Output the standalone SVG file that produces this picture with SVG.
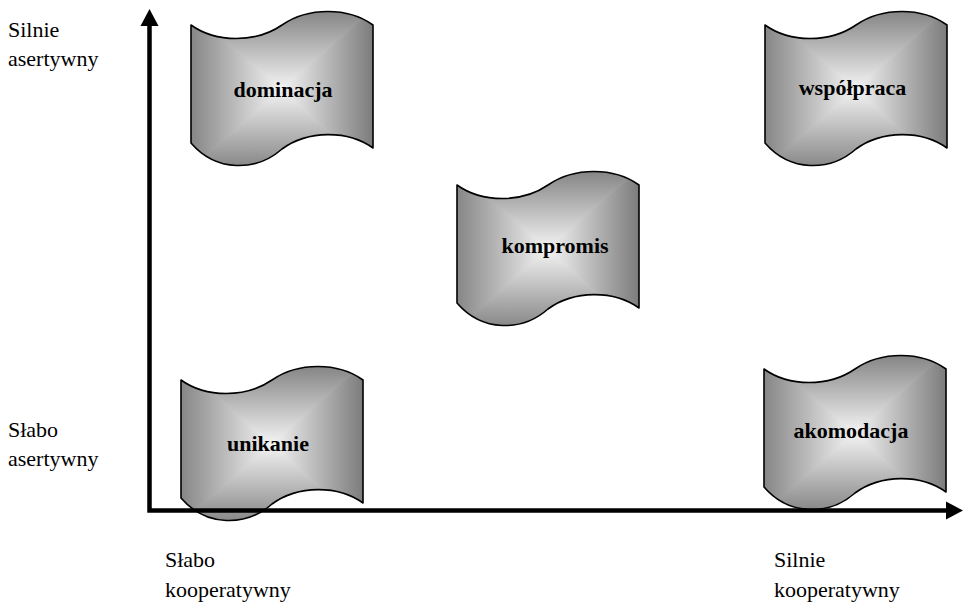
<svg xmlns="http://www.w3.org/2000/svg" xmlns:xlink="http://www.w3.org/1999/xlink" width="965" height="604" viewBox="0 0 965 604">
<style>
.outline{fill:none;stroke:#000;stroke-width:1.6;stroke-linejoin:round}
.axis{fill:none;stroke:#000;stroke-width:4.5;stroke-linejoin:miter}
</style>
<defs>
<path id="tape" d="M0,13 C25,31 65,31 91,13 C117,-5 157,-5 182,13 L182,136 C157,118 117,118 91,137 C65,160 25,160 0,131 Z"/>
<clipPath id="tapeClip"><use xlink:href="#tape"/></clipPath>
<linearGradient id="gH" x1="0" y1="0" x2="1" y2="0">
<stop offset="0" stop-color="#868686"/>
<stop offset="0.5" stop-color="#f4f4f4"/>
<stop offset="1" stop-color="#7c7c7c"/>
</linearGradient>
<linearGradient id="gT" x1="0" y1="0" x2="0" y2="1">
<stop offset="0" stop-color="#838383"/>
<stop offset="1" stop-color="#f4f4f4"/>
</linearGradient>
<linearGradient id="gB" x1="0" y1="1" x2="0" y2="0">
<stop offset="0" stop-color="#838383"/>
<stop offset="1" stop-color="#f4f4f4"/>
</linearGradient>
<g id="tapeShape">
<g clip-path="url(#tapeClip)">
<rect x="0" y="-2" width="182" height="160" fill="url(#gH)"/>
<polygon points="0,-2 182,-2 91,77" fill="url(#gT)"/>
<polygon points="0,158 182,158 91,77" fill="url(#gB)"/>
</g>
<use xlink:href="#tape" class="outline"/>
</g>
<marker id="arr" markerUnits="userSpaceOnUse" markerWidth="20" markerHeight="20" refX="0" refY="0" orient="auto-start-reverse" overflow="visible">
<path d="M0,-9 L17,0 L0,9 Z" fill="#000"/>
</marker>
</defs>

<g id="node-dominacja">
<use xlink:href="#tapeShape" transform="translate(191,12)"/>
<text x="283" y="97" font-family="Liberation Serif, serif" font-size="22" font-weight="bold" text-anchor="middle">dominacja</text>
</g>
<g id="node-wspolpraca">
<use xlink:href="#tapeShape" transform="translate(765,12)"/>
<text x="852.5" y="95" font-family="Liberation Serif, serif" font-size="22" font-weight="bold" text-anchor="middle">współpraca</text>
</g>
<g id="node-kompromis">
<use xlink:href="#tapeShape" transform="translate(457,172)"/>
<text x="555" y="253" font-family="Liberation Serif, serif" font-size="22" font-weight="bold" text-anchor="middle">kompromis</text>
</g>
<g id="node-unikanie">
<use xlink:href="#tapeShape" transform="translate(181,367)"/>
<text x="268" y="451" font-family="Liberation Serif, serif" font-size="22" font-weight="bold" text-anchor="middle">unikanie</text>
</g>
<g id="node-akomodacja">
<use xlink:href="#tapeShape" transform="translate(764,356)"/>
<text x="851" y="438" font-family="Liberation Serif, serif" font-size="22" font-weight="bold" text-anchor="middle">akomodacja</text>
</g>

<g id="connectors">
<path class="axis" d="M149.5,26 V510.5 H946" marker-start="url(#arr)" marker-end="url(#arr)"/>
</g>

<g id="axis-labels" font-family="Liberation Serif, serif" font-size="22" fill="#000">
<text x="8" y="37">Silnie</text>
<text x="8" y="66">asertywny</text>
<text x="8" y="437">Słabo</text>
<text x="8" y="466">asertywny</text>
<text x="165" y="567">Słabo</text>
<text x="165" y="597">kooperatywny</text>
<text x="774" y="567">Silnie</text>
<text x="774" y="597">kooperatywny</text>
</g>
</svg>
